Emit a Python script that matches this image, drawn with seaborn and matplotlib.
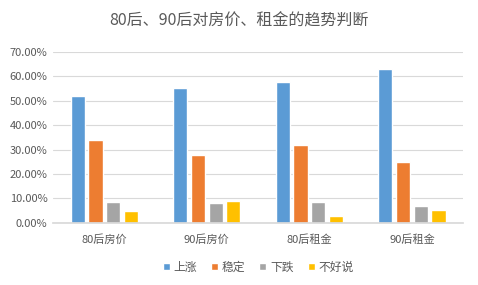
import matplotlib
matplotlib.use("Agg")
import matplotlib.pyplot as plt
import seaborn as sns
import pandas as pd
from matplotlib.ticker import PercentFormatter

categories = ["80后房价", "90后房价", "80后租金", "90后租金"]
series = ["上涨", "稳定", "下跌", "不好说"]
up = [52.1, 55.1, 57.6, 62.9]
stable = [33.8, 27.7, 32.0, 25.1]
down = [8.7, 8.0, 8.5, 6.8]
unsure = [4.7, 9.1, 2.7, 5.3]
colors = ["#5B9BD5", "#ED7D31", "#A5A5A5", "#FFC000"]

rows = []
for name, vals in zip(series, [up, stable, down, unsure]):
    for c, v in zip(categories, vals):
        rows.append({"cat": c, "series": name, "value": v / 100})
df = pd.DataFrame(rows)

sns.set_theme(style="white")
plt.rcParams["font.family"] = ["Noto Sans CJK SC", "DejaVu Sans"]

fig = plt.figure(figsize=(4.78, 2.85), dpi=100)
ax = fig.add_axes([0.111, 0.218, 0.858, 0.600])
sns.barplot(data=df, x="cat", y="value", hue="series", palette=colors,
            width=0.69, gap=0.2, ax=ax, legend=True, saturation=1)

ax.set_ylim(0, 0.7)
ax.set_yticks([i / 10 for i in range(8)])
ax.yaxis.set_major_formatter(PercentFormatter(1.0, decimals=2))
ax.set_xlabel("")
ax.set_ylabel("")
ax.grid(axis="y", color="#D9D9D9", linewidth=0.8)
ax.set_axisbelow(True)
for s in ["top", "right", "left"]:
    ax.spines[s].set_visible(False)
ax.spines["bottom"].set_color("#D9D9D9")
ax.tick_params(axis="both", colors="#595959", labelsize=8, length=0, pad=4)
ax.tick_params(axis="x", pad=8)

ax.legend(loc="center", bbox_to_anchor=(0.5, -0.26), ncol=4, frameon=False,
          fontsize=8.5, handlelength=0.6, handleheight=0.6, handletextpad=0.3,
          columnspacing=1.2, labelcolor="#595959")

fig.suptitle("80后、90后对房价、租金的趋势判断", x=0.5, y=0.955, fontsize=11.5,
             color="#595959")

fig.savefig("out.png", dpi=100)
